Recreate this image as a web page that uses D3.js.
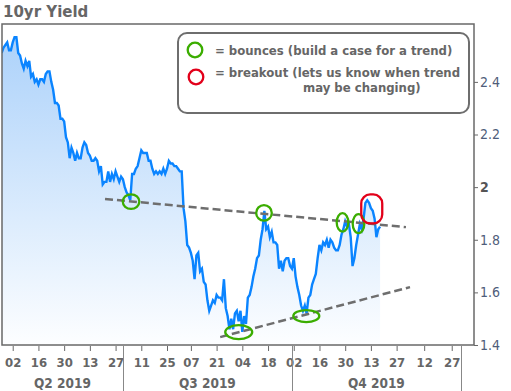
<!DOCTYPE html>
<html>
<head>
<meta charset="utf-8">
<script src="https://cdn.jsdelivr.net/npm/d3@7/dist/d3.min.js"></script>
<style>
  body { margin: 0; background: #fff; }
  svg { display: block; }
</style>
</head>
<body>
<svg id="chart"></svg>
<script>
// 10yr yield, one reading per day, split by month (first day of each array given below)
const aprYields = [2.51, 2.53, 2.54, 2.55, 2.52];
const mayYields = [2.52, 2.55, 2.57, 2.57, 2.51, 2.50, 2.47, 2.45, 2.48, 2.46,
    2.48, 2.42, 2.43, 2.40, 2.41, 2.39, 2.41, 2.41, 2.40, 2.43,
    2.44, 2.44, 2.40, 2.37, 2.32, 2.32, 2.31, 2.26, 2.26, 2.25, 2.19];
const junYields = [2.17, 2.11, 2.15, 2.13, 2.10, 2.13, 2.11, 2.11, 2.15, 2.17,
    2.16, 2.13, 2.12, 2.10, 2.10, 2.11, 2.10, 2.06, 2.08, 2.01,
    2.02, 2.02, 2.06, 2.02, 2.05, 2.03, 2.06, 2.04, 2.02, 2.04];
const julYields = [2.03, 2.00, 1.98, 1.97, 1.95, 2.05, 2.05, 2.07, 2.08, 2.11,
    2.14, 2.13, 2.13, 2.13, 2.10, 2.10, 2.07, 2.05, 2.06, 2.05,
    2.06, 2.05, 2.07, 2.05, 2.07, 2.10, 2.09, 2.09, 2.08, 2.08, 2.07];
const augYields = [2.06, 2.06, 1.92, 1.87, 1.78, 1.77, 1.75, 1.72, 1.65, 1.74,
    1.75, 1.68, 1.69, 1.64, 1.63, 1.57, 1.53, 1.55, 1.57, 1.56,
    1.59, 1.58, 1.58, 1.57, 1.65, 1.54, 1.51, 1.46, 1.50, 1.46, 1.52];
const sepYields = [1.53, 1.49, 1.53, 1.45, 1.51, 1.48, 1.58, 1.59, 1.62, 1.66,
    1.69, 1.73, 1.74, 1.80, 1.84, 1.91, 1.84, 1.85, 1.81, 1.83,
    1.79, 1.79, 1.78, 1.69, 1.72, 1.68, 1.72, 1.73, 1.73, 1.70];
const octYields = [1.69, 1.73, 1.66, 1.62, 1.59, 1.55, 1.53, 1.55, 1.52, 1.58,
    1.59, 1.63, 1.65, 1.67, 1.73, 1.78, 1.76, 1.79, 1.78, 1.80,
    1.77, 1.80, 1.79, 1.77, 1.76, 1.76, 1.78, 1.82, 1.84, 1.87, 1.85];
const novYields = [1.86, 1.81, 1.70, 1.73, 1.78, 1.82, 1.86, 1.84, 1.88, 1.94,
    1.95, 1.94, 1.92, 1.91, 1.88, 1.81, 1.84, 1.85];

const monthStarts = ["2019-04-26", "2019-05-01", "2019-06-01", "2019-07-01",
    "2019-08-01", "2019-09-01", "2019-10-01", "2019-11-01"];

const tickDates = ["2019-05-02", "2019-05-16", "2019-05-30", "2019-06-13", "2019-06-27",
    "2019-07-11", "2019-07-25", "2019-08-07", "2019-08-21", "2019-09-04", "2019-09-18",
    "2019-10-02", "2019-10-16", "2019-10-30", "2019-11-13", "2019-11-27", "2019-12-12",
    "2019-12-27"];
const quarterLabels = ["Q2 2019", "Q3 2019", "Q4 2019"];
const quarterEdges = ["2019-04-01", "2019-07-01", "2019-10-01", "2020-01-01"];
const yTicks = [1.4, 1.6, 1.8, 2, 2.2, 2.4];

// dashed trend lines: [date, yield]
const upperTrend = [["2019-06-21 06", 1.955], ["2019-12-02 02", 1.848]];
const lowerTrend = [["2019-08-22 23", 1.430], ["2019-12-04 07", 1.620]];
// bounce markers: [date, yield]
const bounceDates = ["2019-07-05 10", "2019-09-02 01", "2019-09-15 19", "2019-10-08 20",
    "2019-10-28 13", "2019-11-06 06"];
const bounceYields = [1.945, 1.449, 1.902, 1.510, 1.866, 1.861];
const breakoutPoint = ["2019-11-13 11", 1.917];

const legendLines = ["= bounces (build a case for a trend)",
    "= breakout (lets us know when trend", "may be changing)"];

const W = 511, H = 391;
const plotL = 2, plotR = 474, plotT = 24, plotB = 345;
const GREEN = "#3bad00", RED = "#e2001a", GREY = "#686868";

const parseDay = d3.timeParse("%Y-%m-%d");
const parseHour = d3.timeParse("%Y-%m-%d %H");

const series = [aprYields, mayYields, junYields, julYields, augYields, sepYields, octYields, novYields];
const data = series.flatMap((vals, m) => vals.map((v, i) => ({
    date: d3.timeDay.offset(parseDay(monthStarts[m]), i),
    value: v
})));

const svg = d3.select("#chart").attr("width", W).attr("height", H);

const x = d3.scaleTime()
    .domain([new Date(2019, 3, 26, 4), new Date(2020, 0, 8, 3)])
    .range([plotL, plotR]);
const y = d3.scaleLinear()
    .domain([1.4, 2.62])
    .range([plotB, plotT]);

const defs = svg.append("defs");
const grad = defs.append("linearGradient")
    .attr("id", "fillGrad")
    .attr("gradientUnits", "userSpaceOnUse")
    .attr("x1", 0).attr("x2", 0)
    .attr("y1", plotT).attr("y2", plotB);
grad.append("stop").attr("offset", "0%").attr("stop-color", "#a9d0fa");
grad.append("stop").attr("offset", "100%").attr("stop-color", "#fdfeff");

defs.append("clipPath").attr("id", "plotClip")
    .append("rect")
    .attr("x", plotL).attr("y", plotT)
    .attr("width", plotR - plotL).attr("height", plotB - plotT);

// title
svg.append("text")
    .attr("x", 3).attr("y", 17)
    .attr("font-family", "DejaVu Sans")
    .attr("font-weight", "bold")
    .attr("font-size", 15)
    .attr("fill", "#666")
    .text("10yr Yield");

const plot = svg.append("g").attr("clip-path", "url(#plotClip)");

plot.append("path")
    .datum(data)
    .attr("fill", "url(#fillGrad)")
    .attr("d", d3.area().x(d => x(d.date)).y0(plotB).y1(d => y(d.value)));

plot.append("path")
    .datum(data)
    .attr("fill", "none")
    .attr("stroke", "#0a84ff")
    .attr("stroke-width", 2.4)
    .attr("d", d3.line().x(d => x(d.date)).y(d => y(d.value)));

// trend lines
[upperTrend, lowerTrend].forEach(t => {
    plot.append("path")
        .datum(t)
        .attr("fill", "none")
        .attr("stroke", "#6e6e6e")
        .attr("stroke-width", 2.5)
        .attr("stroke-dasharray", "8,4")
        .attr("d", d3.line().x(d => x(parseHour(d[0]))).y(d => y(d[1])));
});

// bounce ellipses
const bounceR = [[8.3, 7.3], [13.5, 7], [7.8, 7.8], [13, 6], [5.8, 9.2], [5.8, 9.5]];
plot.selectAll("ellipse.bounce")
    .data(bounceDates)
    .join("ellipse")
    .attr("class", "bounce")
    .attr("cx", d => x(parseHour(d)))
    .attr("cy", (d, i) => y(bounceYields[i]))
    .attr("rx", (d, i) => bounceR[i][0])
    .attr("ry", (d, i) => bounceR[i][1])
    .attr("fill", "none")
    .attr("stroke", GREEN)
    .attr("stroke-width", 2.3);

// breakout marker
plot.append("rect")
    .attr("x", x(parseHour(breakoutPoint[0])) - 10.5)
    .attr("y", y(breakoutPoint[1]) - 14.5)
    .attr("width", 21).attr("height", 29)
    .attr("rx", 9).attr("ry", 9)
    .attr("fill", "none")
    .attr("stroke", RED)
    .attr("stroke-width", 2.3);

// frame
svg.append("rect")
    .attr("x", plotL).attr("y", plotT)
    .attr("width", plotR - plotL).attr("height", plotB - plotT)
    .attr("fill", "none")
    .attr("stroke", GREY)
    .attr("stroke-width", 1.5);

// right axis
const yAxis = svg.append("g")
    .attr("transform", `translate(${plotR},0)`)
    .call(d3.axisRight(y).tickValues(yTicks).tickSize(4).tickPadding(2)
        .tickFormat(d => d3.format("")(d)));
yAxis.select(".domain").remove();
yAxis.selectAll(".tick line").attr("stroke", GREY);
yAxis.selectAll(".tick text")
    .attr("font-family", "'Liberation Sans Narrow', 'DejaVu Sans Condensed', 'Liberation Sans'")
    .attr("font-size", 14)
    .attr("fill", d => d === 2 ? "#555" : "#4f5d7a")
    .attr("font-weight", d => d === 2 ? "bold" : "normal");

// bottom axis
const xAxis = svg.append("g")
    .attr("transform", `translate(0,${plotB + 1})`)
    .call(d3.axisBottom(x).tickValues(tickDates.map(parseDay)).tickSize(5)
        .tickFormat(d3.timeFormat("%d")));
xAxis.select(".domain").remove();
xAxis.selectAll(".tick line").attr("stroke", GREY);
xAxis.selectAll(".tick text")
    .attr("y", 11.5)
    .attr("font-family", "'DejaVu Sans Condensed', 'DejaVu Sans'")
    .attr("font-weight", "bold")
    .attr("font-size", 13)
    .attr("fill", "#666");

// quarter separators and labels
const qEdges = quarterEdges.map(parseDay);
svg.selectAll("line.qsep")
    .data(qEdges.slice(1))
    .join("line")
    .attr("class", "qsep")
    .attr("x1", d => Math.round(x(d)) + 0.5).attr("x2", d => Math.round(x(d)) + 0.5)
    .attr("y1", plotB + 1).attr("y2", H)
    .attr("stroke", "#888")
    .attr("stroke-width", 1);
svg.selectAll("text.qlabel")
    .data(quarterLabels)
    .join("text")
    .attr("class", "qlabel")
    .attr("x", (d, i) => (Math.max(plotL, x(qEdges[i])) + x(qEdges[i + 1])) / 2)
    .attr("y", 388)
    .attr("text-anchor", "middle")
    .attr("font-family", "'DejaVu Sans Condensed', 'DejaVu Sans'")
    .attr("font-weight", "bold")
    .attr("font-size", 13.5)
    .attr("fill", "#666")
    .text(d => d);

// legend
const legend = svg.append("g");
legend.append("rect")
    .attr("x", 178).attr("y", 33)
    .attr("width", 291).attr("height", 80)
    .attr("rx", 9).attr("ry", 9)
    .attr("fill", "#fff")
    .attr("stroke", "#6e6e6e")
    .attr("stroke-width", 2);
legend.append("circle")
    .attr("cx", 195).attr("cy", 50).attr("r", 7.3)
    .attr("fill", "none").attr("stroke", GREEN).attr("stroke-width", 2.3);
legend.append("circle")
    .attr("cx", 196).attr("cy", 77).attr("r", 7.3)
    .attr("fill", "none").attr("stroke", RED).attr("stroke-width", 2.3);
legend.selectAll("text")
    .data(legendLines)
    .join("text")
    .attr("x", (d, i) => i === 2 ? 303 : 215)
    .attr("y", (d, i) => [54.5, 77, 92][i])
    .attr("font-family", "'DejaVu Sans Condensed', 'DejaVu Sans'")
    .attr("font-weight", "bold")
    .attr("font-size", 13)
    .attr("fill", "#666")
    .text(d => d);
</script>
</body>
</html>
